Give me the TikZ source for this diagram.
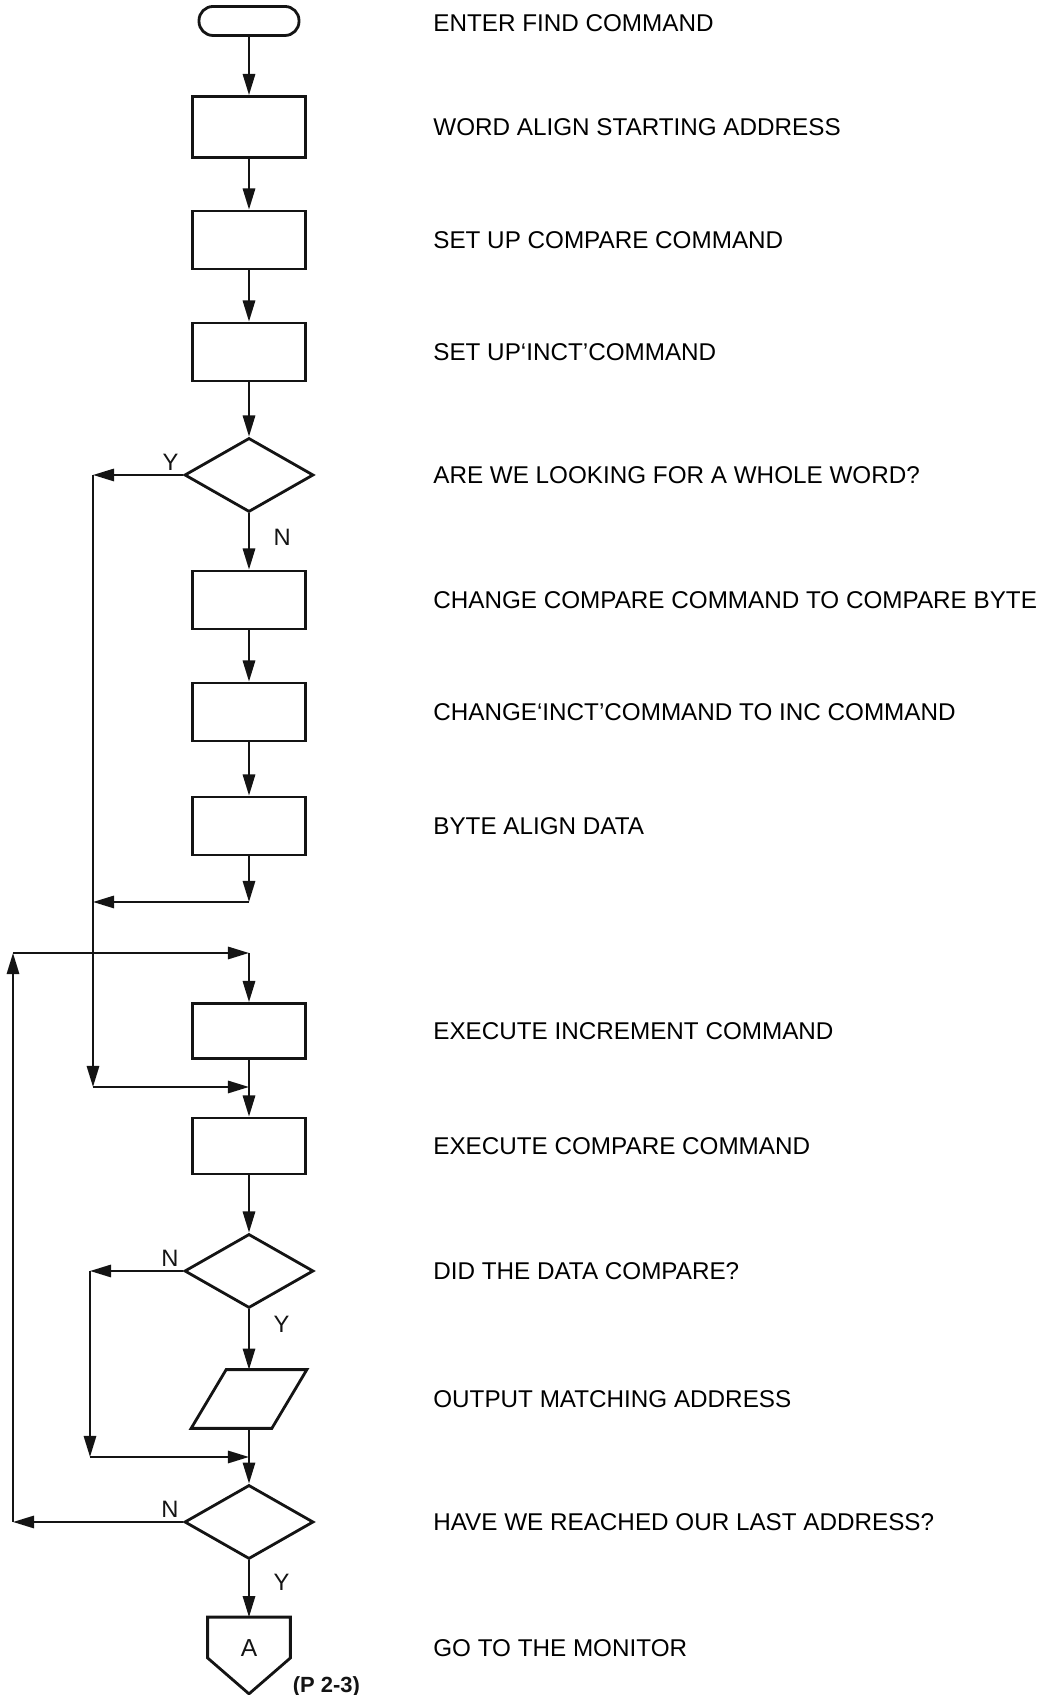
\documentclass[tikz,border=0pt]{standalone}
\usepackage{xcolor}
\usepackage{fontspec}
\setmainfont{Liberation Sans}
\usetikzlibrary{arrows.meta,shapes.geometric}
\definecolor{FCInk}{HTML}{141414}

\begin{document}
\begin{tikzpicture}[x=1cm,y=1cm,
  FCLine/.style={FCInk,line width=1.6pt},
  FCBox/.style={FCLine,draw,rectangle,minimum width=2.26cm,minimum height=1.16cm,inner sep=0pt},
  FCTest/.style={FCLine,draw,diamond,minimum width=2.58cm,minimum height=1.48cm,inner sep=0pt},
  FCFlow/.style={FCInk,line width=1.25pt,-{Triangle[length=12pt,width=7pt]}},
  FCNote/.style={anchor=west,inner sep=0pt,font=\fontsize{13.8}{16}\selectfont},
  FCMark/.style={FCInk,inner sep=2pt,font=\fontsize{13.5}{16}\selectfont}]
\path[use as bounding box] (0,0) rectangle (21.08,33.90);
\node[FCLine,draw,rectangle,rounded corners=0.28cm,minimum width=2.0cm,minimum height=0.58cm] (start) at (4.98,33.48) {};
\node[FCBox,minimum height=1.22cm] (align) at (4.98,31.36) {};
\node[FCBox] (setcmp) at (4.98,29.10) {};
\node[FCBox] (setinc) at (4.98,26.86) {};
\node[FCTest] (whole) at (4.98,24.40) {};
\node[FCBox] (cmpbyte) at (4.98,21.90) {};
\node[FCBox] (incmd) at (4.98,19.66) {};
\node[FCBox] (bytal) at (4.98,17.38) {};
\node[FCBox,minimum height=1.10cm] (exinc) at (4.98,13.28) {};
\node[FCBox,minimum height=1.12cm] (excmp) at (4.98,10.98) {};
\node[FCTest] (match) at (4.98,8.48) {};
\node[minimum width=2.3cm,minimum height=1.16cm,inner sep=0pt] (outadr) at (4.98,5.92) {};
\draw[FCLine,line join=miter] (outadr.south west) -- ([xshift=-0.7cm]outadr.south east) -- (outadr.north east) -- ([xshift=0.7cm]outadr.north west) -- cycle;
\node[FCTest] (last) at (4.98,3.46) {};
\node[minimum width=1.64cm,minimum height=1.52cm,inner sep=0pt] (conn) at (4.98,0.79) {};
\draw[FCLine,line join=miter] (conn.north west) -- (conn.north east) -- ([yshift=-0.05cm]conn.east) -- (conn.south) -- ([yshift=-0.05cm]conn.west) -- cycle;
\node[FCMark,font=\fontsize{14}{16}\selectfont] (connA) at ([yshift=0.15cm]conn.center) {A};
\node[FCMark,anchor=base west,font=\fontsize{12.5}{14}\selectfont\bfseries] (pref) at (5.78,0.05) {(P 2-3)};
\coordinate (j1) at (4.98,15.86);
\coordinate (top) at (4.98,14.84);
\coordinate (j2) at (4.98,12.16);
\coordinate (j3) at (4.98,4.76);
\coordinate (yc) at (1.86,24.40);
\coordinate (yd) at (1.86,12.16);
\coordinate (nc) at (1.80,8.48);
\coordinate (nd) at (1.80,4.76);
\coordinate (lc) at (0.26,3.46);
\coordinate (ld) at (0.26,14.84);
\draw[FCFlow] (start) -- (align);
\draw[FCFlow] (align) -- (setcmp);
\draw[FCFlow] (setcmp) -- (setinc);
\draw[FCFlow] (setinc) -- (whole);
\draw[FCFlow] (whole) -- node[FCMark,pos=0.43,right=0.40cm] (n1) {N} (cmpbyte);
\draw[FCFlow] (cmpbyte) -- (incmd);
\draw[FCFlow] (incmd) -- (bytal);
\draw[FCFlow] (bytal) -- (j1);
\draw[FCFlow] (j1) -- (j1 -| yc);
\draw[FCFlow] (whole.west) node[FCMark,above left] (y1) {Y} -- (yc);
\draw[FCFlow] (yc) -- (yd);
\draw[FCFlow] (yd) -- (j2);
\draw[FCFlow] (last.west) node[FCMark,above left] (n3) {N} -- (lc);
\draw[FCFlow] (lc) -- (ld);
\draw[FCFlow] (ld) -- (top);
\draw[FCFlow] (top) -- (exinc);
\draw[FCFlow] (exinc) -- (excmp);
\draw[FCFlow] (excmp) -- (match);
\draw[FCFlow] (match) -- node[FCMark,pos=0.24,right=0.40cm] (y2) {Y} (outadr);
\draw[FCFlow] (match.west) node[FCMark,above left] (n2) {N} -- (nc);
\draw[FCFlow] (nc) -- (nd);
\draw[FCFlow] (nd) -- (j3);
\draw[FCFlow] (outadr) -- (last);
\draw[FCFlow] (last) -- node[FCMark,pos=0.38,right=0.40cm] (y3) {Y} (conn);
\coordinate (tx) at (8.66,0);
\node[FCNote,yshift=-0.05cm] (t1) at (tx |- start) {ENTER FIND COMMAND};
\node[FCNote] (t2) at (tx |- align) {WORD ALIGN STARTING ADDRESS};
\node[FCNote] (t3) at (tx |- setcmp) {SET UP COMPARE COMMAND};
\node[FCNote] (t4) at (tx |- setinc) {SET UP‘INCT’COMMAND};
\node[FCNote] (t5) at (tx |- whole) {ARE WE LOOKING FOR A WHOLE WORD?};
\node[FCNote] (t6) at (tx |- cmpbyte) {CHANGE COMPARE COMMAND TO COMPARE BYTE};
\node[FCNote] (t7) at (tx |- incmd) {CHANGE‘INCT’COMMAND TO INC COMMAND};
\node[FCNote] (t8) at (tx |- bytal) {BYTE ALIGN DATA};
\node[FCNote] (t9) at (tx |- exinc) {EXECUTE INCREMENT COMMAND};
\node[FCNote] (t10) at (tx |- excmp) {EXECUTE COMPARE COMMAND};
\node[FCNote] (t11) at (tx |- match) {DID THE DATA COMPARE?};
\node[FCNote] (t12) at (tx |- outadr) {OUTPUT MATCHING ADDRESS};
\node[FCNote] (t13) at (tx |- last) {HAVE WE REACHED OUR LAST ADDRESS?};
\node[FCNote] (t14) at (tx |- connA) {GO TO THE MONITOR};
\end{tikzpicture}
\end{document}
